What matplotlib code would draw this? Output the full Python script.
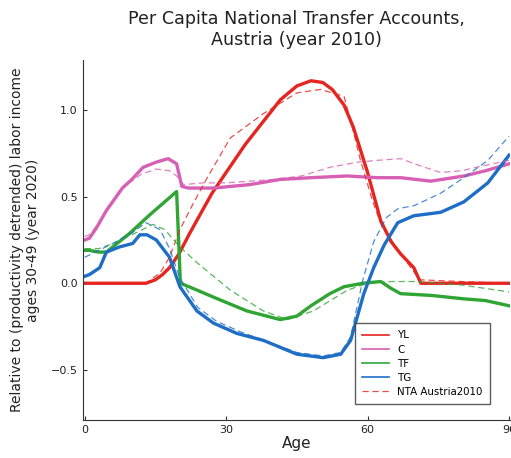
import matplotlib.pyplot as plt

# model series (solid)
yl_age = [0, 5, 10, 13, 15, 16.5, 18, 20, 22.3, 27, 34, 41.5, 45, 48, 50.5, 52.5, 55, 57, 60, 62.8, 65, 67, 69.8, 71.3, 80, 90]
yl_val = [0, 0, 0, 0.0, 0.02, 0.05, 0.09, 0.17, 0.29, 0.52, 0.80, 1.06, 1.14, 1.17, 1.16, 1.12, 1.03, 0.90, 0.64, 0.36, 0.24, 0.17, 0.09, 0.0, 0.0, 0.0]

c_age = [0, 1, 2.5, 4.6, 8, 10, 12.4, 15.2, 17.7, 19.5, 20.6, 22, 27.3, 35, 41.5, 48, 55.7, 62, 67, 73.4, 80.5, 85, 90]
c_val = [0.25, 0.26, 0.32, 0.42, 0.55, 0.60, 0.67, 0.70, 0.72, 0.69, 0.56, 0.55, 0.55, 0.57, 0.60, 0.61, 0.62, 0.61, 0.61, 0.59, 0.62, 0.65, 0.69]

tf_age = [0, 1, 3, 4.6, 9.6, 14, 19.5, 20.3, 23, 27.3, 34.4, 41.5, 45, 48, 52, 55, 59, 62.8, 65, 67, 73.4, 80.4, 85, 90]
tf_val = [0.19, 0.19, 0.18, 0.18, 0.29, 0.40, 0.53, 0.0, -0.03, -0.08, -0.16, -0.21, -0.19, -0.13, -0.06, -0.02, 0.0, 0.01, -0.03, -0.06, -0.07, -0.09, -0.10, -0.13]

tg_age = [0, 1, 3.2, 4.6, 7.4, 10.2, 11.7, 13.2, 15.2, 18, 20.2, 23.8, 27.3, 32.3, 37.9, 45, 50.6, 54.3, 56.4, 59.2, 61.3, 63.5, 66.4, 69.8, 75.5, 80.4, 85.5, 90]
tg_val = [0.04, 0.05, 0.09, 0.18, 0.21, 0.23, 0.28, 0.28, 0.25, 0.15, -0.02, -0.16, -0.23, -0.29, -0.33, -0.41, -0.43, -0.41, -0.33, -0.06, 0.09, 0.22, 0.35, 0.39, 0.41, 0.47, 0.58, 0.74]

# NTA Austria 2010 (dashed)
nta_yl_age = [0, 10, 13, 16, 18, 20.2, 23, 26, 30.9, 37.9, 45, 50, 55, 56.4, 58.5, 61, 63, 67, 70, 71, 80, 90]
nta_yl_val = [0, 0, 0, 0.06, 0.15, 0.31, 0.46, 0.61, 0.84, 0.98, 1.10, 1.12, 1.08, 0.94, 0.71, 0.48, 0.33, 0.17, 0.06, 0.02, 0.01, 0.0]

nta_c_age = [0, 1, 2.5, 4.6, 8, 12, 15.2, 18, 19.5, 21, 25, 30, 40, 46, 52, 58, 62, 67, 71, 75.5, 80, 83, 90]
nta_c_val = [0.27, 0.28, 0.33, 0.42, 0.55, 0.63, 0.66, 0.65, 0.62, 0.57, 0.58, 0.58, 0.60, 0.62, 0.67, 0.70, 0.71, 0.72, 0.68, 0.64, 0.65, 0.67, 0.71]

nta_tf_age = [0, 3, 6, 10, 14.5, 17, 20.2, 23.8, 30.9, 37.9, 43, 48.5, 55.7, 60, 65, 70, 80, 90]
nta_tf_val = [0.20, 0.20, 0.23, 0.28, 0.34, 0.31, 0.21, 0.12, -0.04, -0.16, -0.21, -0.16, -0.04, 0.0, 0.01, 0.01, -0.01, -0.05]

nta_tg_age = [0, 3, 6, 10, 13, 16, 18, 20.2, 24, 28, 33, 38, 45, 50.6, 54.3, 56.4, 59, 61.3, 64, 66.4, 70, 75.5, 80.4, 85.5, 90]
nta_tg_val = [0.15, 0.19, 0.23, 0.29, 0.35, 0.31, 0.20, 0.03, -0.14, -0.22, -0.28, -0.33, -0.40, -0.42, -0.40, -0.31, 0.02, 0.24, 0.38, 0.43, 0.45, 0.52, 0.61, 0.71, 0.85]

red = '#e5251f'
pink = '#d760b5'
green = '#2fa534'
blue = '#1f6ec6'

fig = plt.figure(figsize=(5.11, 4.58), dpi=100)
ax = fig.add_axes([0.162, 0.083, 0.836, 0.786])

lw = 2.4
ax.plot(yl_age, yl_val, color=red, lw=lw, label='YL')
ax.plot(c_age, c_val, color=pink, lw=lw, label='C')
ax.plot(tf_age, tf_val, color=green, lw=lw, label='TF')
ax.plot(tg_age, tg_val, color=blue, lw=lw, label='TG')

dash = dict(lw=0.9, ls=(0, (5, 3)), alpha=0.8)
ax.plot(nta_yl_age, nta_yl_val, color=red, label='NTA Austria2010', **dash)
ax.plot(nta_c_age, nta_c_val, color=pink, **dash)
ax.plot(nta_tf_age, nta_tf_val, color=green, **dash)
ax.plot(nta_tg_age, nta_tg_val, color=blue, **dash)

ax.set_xlim(-0.4, 90.2)
ax.set_ylim(-0.79, 1.29)
ax.set_xticks([0, 30, 60, 90])
ax.set_yticks([-0.5, 0.0, 0.5, 1.0])
ax.set_yticklabels(['\u22120.5', '0.0', '0.5', '1.0'])
ax.tick_params(labelsize=8, length=3, color='#333333', labelcolor='#222222', direction='in')
for s in ['top', 'right']:
    ax.spines[s].set_visible(False)
for s in ['left', 'bottom']:
    ax.spines[s].set_color('#333333')

ax.set_title('Per Capita National Transfer Accounts,\nAustria (year 2010)', fontsize=12.6, color='#222222', pad=11)
ax.set_xlabel('Age', fontsize=11, color='#222222', labelpad=1)
ax.set_ylabel('Relative to (productivity detrended) labor income\nages 30-49 (year 2020)', fontsize=10, color='#222222', labelpad=8)

leg = ax.legend(loc='lower right', fontsize=7.4, frameon=True, fancybox=False,
                edgecolor='#333333', handlelength=2.6, borderpad=0.7,
                labelspacing=0.4, bbox_to_anchor=(0.965, 0.03))
leg.get_frame().set_linewidth(1.0)
for line in leg.get_lines()[:4]:
    line.set_linewidth(1.2)

fig.savefig('out.png', dpi=100)
